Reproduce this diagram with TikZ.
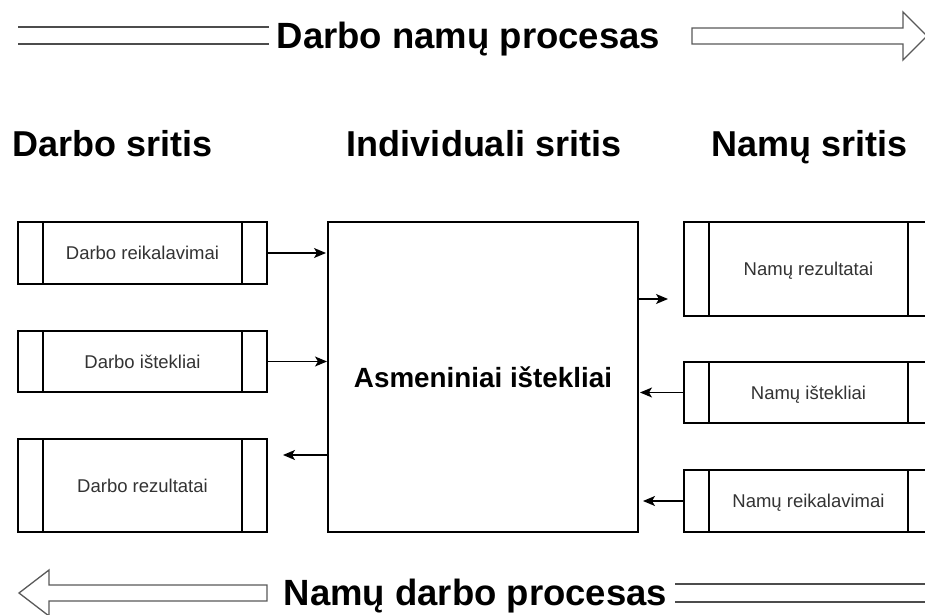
\documentclass[tikz,border=0pt]{standalone}
\usepackage{fontspec}
\setmainfont{Liberation Sans}
\usetikzlibrary{arrows.meta}

\begin{document}
\begin{tikzpicture}[x=1bp, y=-1bp,
  every node/.style={inner sep=0pt, outer sep=0pt},
  procbox/.style={draw=black, line width=1.2bp, fill=white,
    minimum width=249bp, text=black!80,
    font=\fontsize{18.5bp}{22bp}\selectfont,
    text height=13.3bp, text depth=0pt,
    path picture={
      \draw[line width=1.2bp]
        ([xshift=25bp]path picture bounding box.north west) --
        ([xshift=25bp]path picture bounding box.south west);
      \draw[line width=1.2bp]
        ([xshift=-25bp]path picture bounding box.north east) --
        ([xshift=-25bp]path picture bounding box.south east);
    }},
  bigbox/.style={draw=black, line width=1.2bp, fill=white,
    minimum width=310bp, minimum height=310bp,
    font=\bfseries\fontsize{27.8bp}{32bp}\selectfont,
    text height=20bp, text depth=0pt},
  heading/.style={anchor=base, font=\bfseries\fontsize{36bp}{40bp}\selectfont},
  flowtitle/.style={anchor=base, inner xsep=8bp,
    font=\bfseries\fontsize{36.5bp}{40bp}\selectfont},
  conn/.style={draw=black, line width=1.3bp,
    arrows={-Stealth[length=12bp, width=10bp, inset=3bp]}},
  dbl/.style={draw=black!70, line width=1.4bp, double=white, double distance=15.8bp},
  outline/.style={draw=black!65, line width=1.3bp, fill=white, line join=miter}
]
\useasboundingbox (0,0) rectangle (925,615);

% flow from work to home
\node[flowtitle] (topt) at (468.5,49) {Darbo namų procesas};
\coordinate (tl) at (18,35.5);
\draw[dbl] (tl) -- (tl -| topt.west);
\draw[outline] (692,28) -- (903,28) -- (903,12) -- (927,36) -- (903,60)
  -- (903,44) -- (692,44) -- cycle;

% domain headings
\node[heading] (hwork) at (112.5,157) {Darbo sritis};
\node[heading] (hind)  at (484,157)   {Individuali sritis};
\node[heading] (hhome) at (810,157)   {Namų sritis};

% work domain
\node[procbox, minimum height=62bp] (dreq) at (142.5,253)   {Darbo reikalavimai};
\node[procbox, minimum height=61bp] (dres) at (142.5,361.5) {Darbo ištekliai};
\node[procbox, minimum height=93bp] (drez) at (142.5,485.5) {Darbo rezultatai};

% individual domain
\node[bigbox] (asm) at (483,377) {Asmeniniai ištekliai};

% home domain
\node[procbox, minimum height=94bp] (nrez) at (808.5,269)   {Namų rezultatai};
\node[procbox, minimum height=61bp] (nist) at (808.5,392.5) {Namų ištekliai};
\node[procbox, minimum height=62bp] (nreq) at (808.5,501)   {Namų reikalavimai};

% connectors
\draw[conn, shorten >=2bp] (dreq.east) -- (dreq.east -| asm.west);
\draw[conn, shorten >=1bp] (dres.east) -- (dres.east -| asm.west);
\coordinate (drezin) at (283,455);
\draw[conn] (asm.west |- drezin) -- (drezin);
\coordinate (nrezin) at (668,299);
\draw[conn] (asm.east |- nrezin) -- (nrezin);
\draw[conn, shorten >=2bp] (nist.west) -- (nist.west -| asm.east);
\draw[conn, shorten >=5bp] (nreq.west) -- (nreq.west -| asm.east);

% flow from home to work
\node[flowtitle] (bott) at (475.5,605) {Namų darbo procesas};
\coordinate (bl) at (925,593);
\draw[dbl, double distance=16.6bp] (bl -| bott.east) -- (bl);
\draw[outline] (267,585) -- (49,585) -- (49,570) -- (19,593) -- (49,616)
  -- (49,601) -- (267,601) -- cycle;
\end{tikzpicture}
\end{document}
